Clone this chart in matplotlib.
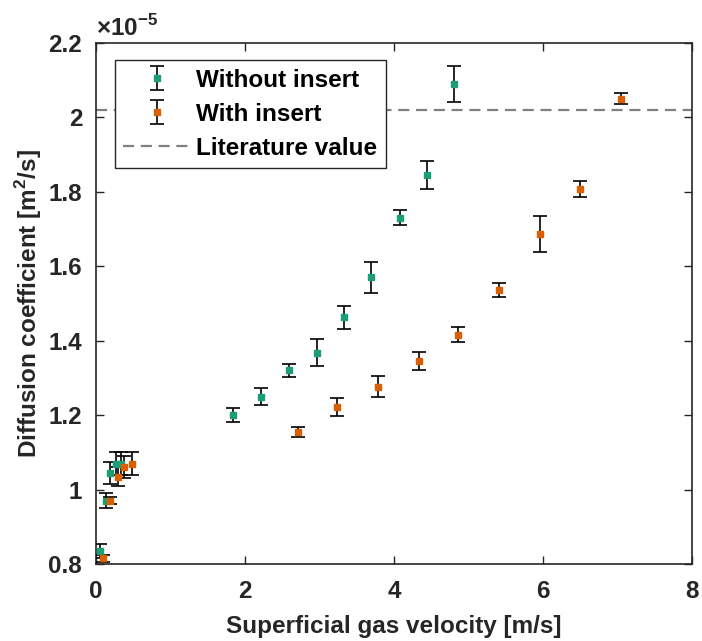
import matplotlib.pyplot as plt

plt.rcParams['font.family'] = ['Liberation Sans', 'DejaVu Sans']
plt.rcParams['font.weight'] = 'bold'
plt.rcParams['mathtext.fontset'] = 'custom'
plt.rcParams['mathtext.rm'] = 'Liberation Sans:bold'
plt.rcParams['mathtext.bf'] = 'Liberation Sans:bold'

# Diffusion coefficient values in units of 1e-5 m^2/s
vel_without = [0.05, 0.13, 0.19, 0.27, 0.33, 1.84, 2.21, 2.59, 2.96, 3.33, 3.69, 4.08, 4.44, 4.81]
diff_without = [0.835, 0.97, 1.045, 1.07, 1.07, 1.20, 1.25, 1.32, 1.368, 1.463, 1.57, 1.73, 1.845, 2.09]
err_without = [0.02, 0.02, 0.03, 0.03, 0.03, 0.018, 0.024, 0.018, 0.037, 0.031, 0.041, 0.02, 0.037, 0.048]

vel_with = [0.10, 0.19, 0.29, 0.38, 0.48, 2.71, 3.24, 3.78, 4.34, 4.86, 5.41, 5.96, 6.50, 7.04]
diff_with = [0.815, 0.97, 1.035, 1.06, 1.07, 1.154, 1.221, 1.277, 1.346, 1.416, 1.537, 1.687, 1.808, 2.05]
err_with = [0.01, 0.01, 0.025, 0.03, 0.03, 0.013, 0.024, 0.028, 0.024, 0.02, 0.019, 0.049, 0.022, 0.015]

literature_value = 2.02

xticks = [0, 2, 4, 6, 8]
yticks = [0.8, 1.0, 1.2, 1.4, 1.6, 1.8, 2.0, 2.2]
ytick_labels = ['0.8', '1', '1.2', '1.4', '1.6', '1.8', '2', '2.2']

FS = 17.5
DARK = '#262626'

fig = plt.figure(figsize=(7.02, 6.41), dpi=100)
ax = fig.add_axes([0.1368, 0.1201, 0.849, 0.8128])

h1 = ax.errorbar(vel_without, diff_without, yerr=err_without, fmt='s', color='#1b9e77',
                 ecolor='black', elinewidth=1.2, capsize=5, capthick=1.2, markersize=5,
                 label='Without insert', zorder=3)
h2 = ax.errorbar(vel_with, diff_with, yerr=err_with, fmt='s', color='#d95f02',
                 ecolor='black', elinewidth=1.2, capsize=5, capthick=1.2, markersize=5,
                 label='With insert', zorder=3)
h3 = ax.axhline(literature_value, color='#808080', ls=(0, (5, 3)), lw=1.6,
                label='Literature value', zorder=2)

ax.set_xlim(0, 8)
ax.set_ylim(0.8, 2.2)
ax.set_xticks(xticks)
ax.set_yticks(yticks)
ax.set_yticklabels(ytick_labels)

ax.tick_params(direction='in', top=True, right=True, length=6, width=1,
               labelsize=FS, colors=DARK)
ax.tick_params(axis='y', pad=10)
ax.tick_params(axis='x', pad=11.5)
for sp in ax.spines.values():
    sp.set_color(DARK)
    sp.set_linewidth(1.2)

ax.set_xlabel('Superficial gas velocity [m/s]', fontsize=FS, fontweight='bold', color=DARK, labelpad=9)
ax.set_ylabel('Diffusion coefficient [m$^{2}$/s]', fontsize=FS, fontweight='bold', color=DARK, labelpad=3)
ax.text(0.0, 1.004, r'$\times$10$^{-5}$', transform=ax.transAxes, ha='left', va='bottom',
        fontsize=FS, color=DARK)

leg = ax.legend(handles=[h1, h2, h3], loc='upper left', bbox_to_anchor=(0.031, 0.967),
                fontsize=FS, frameon=True, fancybox=False, edgecolor=DARK, framealpha=1,
                handlelength=2.8, handletextpad=0.2, borderpad=0.35, labelspacing=0.45,
                borderaxespad=0)
leg.get_frame().set_linewidth(1.0)

fig.savefig('out.png', dpi=100)
